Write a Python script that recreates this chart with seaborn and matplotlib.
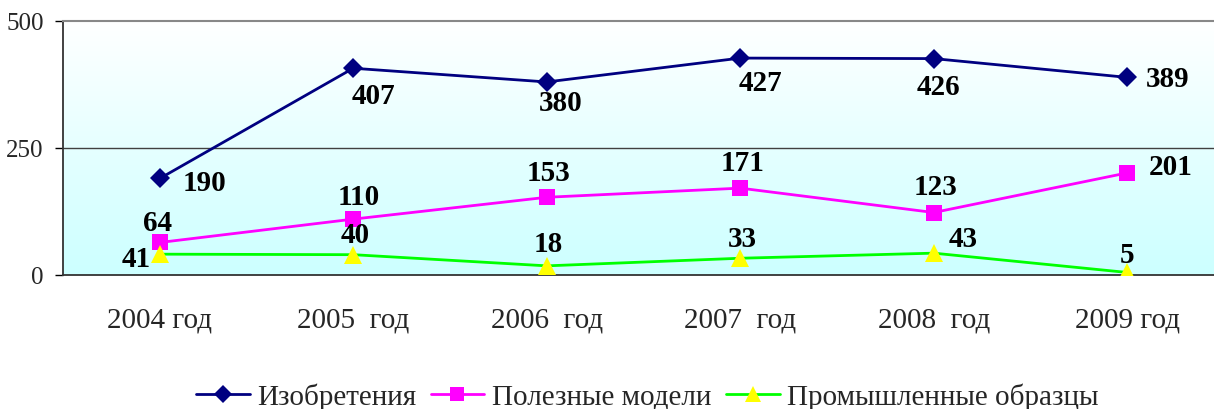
import numpy as np
import pandas as pd
import matplotlib
matplotlib.use("Agg")
import matplotlib.pyplot as plt
import seaborn as sns
from matplotlib.lines import Line2D

sns.set_style("white")
plt.rcParams['font.family'] = ['Liberation Serif', 'DejaVu Serif']

years = ["2004 год", "2005  год", "2006  год", "2007  год", "2008  год", "2009 год"]
series_names = ["Изобретения", "Полезные модели", "Промышленные образцы"]
inventions = [190, 407, 380, 427, 426, 389]
utility_models = [64, 110, 153, 171, 123, 201]
industrial_designs = [41, 40, 18, 33, 43, 5]
y_ticks = [0, 250, 500]

values = [inventions, utility_models, industrial_designs]
colors = ["#000080", "#FF00FF", "#00FF00"]
marker_face = ["#000080", "#FF00FF", "#FFFF00"]
markers = ["D", "s", "^"]
msizes = [10, 11, 13.5]
# label offsets in pixels (style only)
offsets = [
    [(45, -4), (20, -27), (14, -21), (20, -24), (5, -28), (40, -1)],
    [(-2, 20), (5, 23), (2, 25), (2, 26), (2, 26), (43, 6)],
    [(-24, -4), (2, 20), (2, 22), (2, 20), (29, 15), (0, 18)],
]

fig = plt.figure(figsize=(12.14, 4.10), dpi=100)
W, H = 1214, 410
ax = fig.add_axes([63 / W, (H - 276) / H, (1224 - 63) / W, 254 / H])

# gradient background
grad = np.linspace(0, 1, 256).reshape(-1, 1)
top = np.array([1.0, 1.0, 1.0])
bot = np.array([0.80, 1.0, 1.0])
img = top[None, None, :] * (1 - grad[:, :, None]) + bot[None, None, :] * grad[:, :, None]
ax.imshow(img, extent=[0, 1, 0, 1], transform=ax.transAxes, aspect='auto', zorder=0)

x = np.arange(len(years))
for i, (name, vals) in enumerate(zip(series_names, values)):
    df = pd.DataFrame({"x": x, "y": vals})
    sns.lineplot(data=df, x="x", y="y", ax=ax, color=colors[i], lw=2, zorder=3,
                 marker=markers[i], markersize=msizes[i], markerfacecolor=marker_face[i],
                 markeredgecolor=marker_face[i], markeredgewidth=0)
    for j, v in enumerate(vals):
        ax.annotate(str(v), (x[j], v), xytext=offsets[i][j], textcoords='offset pixels',
                    ha='center', va='center', fontsize=21, fontweight='bold', color='black',
                    zorder=5)

ax.set_xlim(-0.5, len(years) - 0.5)
ax.set_ylim(0, 500)
ax.set_yticks(y_ticks)
ax.set_yticklabels([str(t) for t in y_ticks], fontsize=18)
ax.set_xticks(x)
ax.set_xticklabels(years, fontsize=21)
ax.set_xticks(np.arange(len(years) + 1) - 0.5, minor=True)
ax.tick_params(axis='x', which='major', length=0, pad=23)
ax.tick_params(axis='x', which='minor', length=7, width=1, direction='out', color='black')
ax.tick_params(axis='y', which='major', length=6, width=1, direction='out', color='black', pad=8, left=True)
ax.set_xlabel("")
ax.set_ylabel("")
ax.axhline(250, color='#404040', lw=1, zorder=1)
for s in ['left', 'bottom']:
    ax.spines[s].set_color('#333333')
    ax.spines[s].set_linewidth(1.3)
ax.spines['top'].set_color('#888888')
ax.spines['top'].set_linewidth(1.5)
ax.spines['right'].set_visible(False)

handles = [Line2D([0], [0], color=colors[i], lw=2, marker=markers[i], markersize=msizes[i] * 0.9,
                  markerfacecolor=marker_face[i], markeredgewidth=0) for i in range(3)]
fig.legend(handles, series_names, loc='center', bbox_to_anchor=(647 / W, 1 - 397 / H),
           ncol=3, frameon=False, fontsize=21, handlelength=1.85, handletextpad=0.25,
           columnspacing=0.5, borderpad=0)

fig.savefig("out.png", dpi=100)
